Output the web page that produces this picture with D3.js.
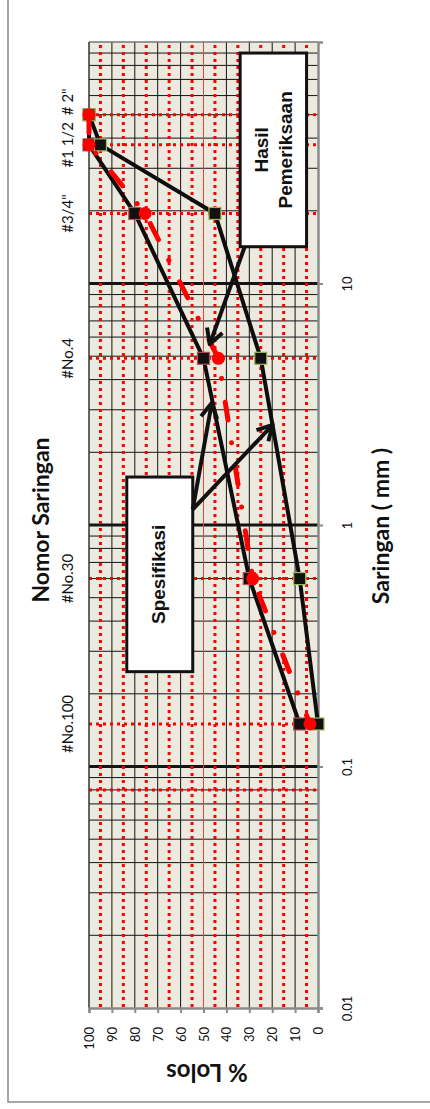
<!DOCTYPE html>
<html>
<head>
<meta charset="utf-8">
<script src="https://cdn.jsdelivr.net/npm/d3@7"></script>
<style>
  body { margin: 0; background: #fff; }
  text { font-family: Lato, "Open Sans", sans-serif; fill: #111; }
  .note { font-family: "Liberation Sans", Arial, sans-serif; font-weight: bold; }
</style>
</head>
<body>
<script>
// sieve openings (mm) as placed on the chart
var sieveNames = ['# 2"', '#1 1/2', '#3/4"', '#No.4', '#No.30', '#No.100'];
var sieveSize = [50, 37.5, 19.5, 4.9, 0.6, 0.15];
var extraSieve = [0.08];            // dotted line without label
// % passing
var specUpper = [100, 100, 80, 50, 30, 8];
var specLower = [100, 95, 45, 25, 8, 0];
var hasil = [100, 100, 75.5, 43.5, 28.5, 3.5];
// ticks
var pctTicks = [0, 10, 20, 30, 40, 50, 60, 70, 80, 90, 100];
var mmTicks = [0.01, 0.1, 1, 10];
var pctMid = [5, 15, 25, 35, 45, 55, 65, 75, 85, 95];

var w = 430, h = 1109;
var svg = d3.select('body').append('svg').attr('width', w).attr('height', h);

// chart is turned a quarter: sieve size runs up the page, % passing runs right to left
var x = d3.scaleLinear().domain([0, 100]).range([318, 89]);
var y = d3.scaleLog().domain([0.01, 100]).range([1008, 42]);

svg.append('path').attr('d', 'M8,0V1102H430')
  .attr('fill', 'none').attr('stroke', '#8a8a8a').attr('stroke-width', 1.5);

svg.append('rect')
  .attr('x', x(100)).attr('y', y(100))
  .attr('width', x(0) - x(100)).attr('height', y(0.01) - y(100))
  .attr('fill', '#ece9df');

// log grid
var isDecade = function(d) { var l = Math.log10(d); return Math.abs(l - Math.round(l)) < 1e-9; };
svg.append('g').selectAll('line')
  .data(y.ticks().filter(function(d) { return d > 0.01 && d < 100; }))
  .enter().append('line')
  .attr('x1', x(100)).attr('x2', x(0))
  .attr('y1', function(d) { return y(d); }).attr('y2', function(d) { return y(d); })
  .attr('stroke', '#141414')
  .attr('stroke-width', function(d) { return isDecade(d) ? 3 : 1; });

svg.append('g').selectAll('line')
  .data(pctTicks.filter(function(d) { return d > 0 && d < 100 && d != 50; }))
  .enter().append('line')
  .attr('x1', function(d) { return x(d); }).attr('x2', function(d) { return x(d); })
  .attr('y1', y(100)).attr('y2', y(0.01))
  .attr('stroke', '#141414').attr('stroke-width', 1);

svg.append('line')
  .attr('x1', x(50)).attr('x2', x(50)).attr('y1', y(100)).attr('y2', y(0.01))
  .attr('stroke', '#e8423a').attr('stroke-width', 1);

// red dotted lines
svg.append('g').selectAll('line')
  .data(pctMid).enter().append('line')
  .attr('x1', function(d) { return x(d); }).attr('x2', function(d) { return x(d); })
  .attr('y1', y(100) + 3).attr('y2', y(0.01))
  .attr('stroke', '#ff0000').attr('stroke-width', 3).attr('stroke-dasharray', '3,4');

svg.append('g').selectAll('line')
  .data(sieveSize.concat(extraSieve)).enter().append('line')
  .attr('x1', x(100)).attr('x2', x(0))
  .attr('y1', function(d) { return y(d); }).attr('y2', function(d) { return y(d); })
  .attr('stroke', '#ff0000').attr('stroke-width', 3).attr('stroke-dasharray', '3,4');

// plot borders
svg.append('line').attr('x1', x(100)).attr('x2', x(0)).attr('y1', y(100)).attr('y2', y(100))
  .attr('stroke', '#777').attr('stroke-width', 1.5);
svg.append('line').attr('x1', x(100)).attr('x2', x(100)).attr('y1', y(100)).attr('y2', y(0.01))
  .attr('stroke', '#333').attr('stroke-width', 1.5);

// axes
var mmAxis = svg.append('g').attr('transform', 'translate(' + x(0) + ',0)')
  .call(d3.axisRight(y).tickValues(mmTicks).tickSize(5).tickFormat(function(d) { return String(d); }));
var pctAxis = svg.append('g').attr('transform', 'translate(0,' + y(0.01) + ')')
  .call(d3.axisBottom(x).tickValues(pctTicks).tickSize(5));
[mmAxis, pctAxis].forEach(function(a) {
  a.select('.domain').attr('stroke', '#8a8a8a').attr('stroke-width', 2.5);
  a.selectAll('.tick line').attr('stroke', '#8a8a8a').attr('stroke-width', 2);
  a.selectAll('text').style('font-size', '13px').attr('fill', '#111');
});
mmAxis.selectAll('text')
  .attr('x', null).attr('dy', null).attr('text-anchor', 'middle')
  .attr('transform', 'translate(34,0) rotate(-90)');
pctAxis.selectAll('text')
  .attr('y', null).attr('dy', null).attr('text-anchor', 'end')
  .attr('transform', 'translate(4.5,19) rotate(-90)');

// series
function pts(vals) {
  return vals.map(function(v, i) { return {s: sieveSize[i], p: v}; });
}
var line = d3.line().x(function(d) { return x(d.p); }).y(function(d) { return y(d.s); });

function squares(vals, edge) {
  svg.append('path').datum(pts(vals)).attr('d', line)
    .attr('fill', 'none').attr('stroke', '#0d0d0d').attr('stroke-width', 4).attr('stroke-linejoin', 'round');
  svg.append('g').selectAll('rect').data(pts(vals)).enter().append('rect')
    .attr('x', function(d) { return x(d.p) - 6; }).attr('y', function(d) { return y(d.s) - 6; })
    .attr('width', 12).attr('height', 12)
    .attr('fill', '#111').attr('stroke', edge).attr('stroke-width', 1.2);
}
squares(specUpper, '#b0524f');
squares(specLower, '#9bbb59');

svg.append('path').datum(pts(hasil)).attr('d', line)
  .attr('fill', 'none').attr('stroke', '#ff0000').attr('stroke-width', 5)
  .attr('stroke-linecap', 'round').attr('stroke-dasharray', '18,23,0.1,24');
svg.append('g').selectAll('circle').data(pts(hasil)).enter().append('circle')
  .attr('cx', function(d) { return x(d.p); }).attr('cy', function(d) { return y(d.s); })
  .attr('r', 6.5).attr('fill', '#ff0000');

// call-outs, placed in chart units
var hasilBox = {p0: 34, p1: 5, s0: 90, s1: 14.2};
var specBox = {p0: 83.5, p1: 54.7, s0: 1.58, s1: 0.247};
var arrows = [
  {from: [32, 14.2], to: [47.3, 5.6]},
  {from: [54.7, 1.16], to: [46.4, 3.2]},
  {from: [54.7, 1.16], to: [19.8, 2.6]}
];

function box(b) {
  svg.append('rect')
    .attr('x', x(b.p0)).attr('y', y(b.s0))
    .attr('width', x(b.p1) - x(b.p0)).attr('height', y(b.s1) - y(b.s0))
    .attr('fill', '#fff').attr('stroke', '#111').attr('stroke-width', 3);
}
box(hasilBox);
box(specBox);

arrows.forEach(function(a) {
  var x0 = x(a.from[0]), y0 = y(a.from[1]), x1 = x(a.to[0]), y1 = y(a.to[1]);
  var ang = Math.atan2(y1 - y0, x1 - x0), len = 17, spread = 0.5;
  svg.append('line').attr('x1', x0).attr('y1', y0).attr('x2', x1).attr('y2', y1)
    .attr('stroke', '#111').attr('stroke-width', 4);
  svg.append('path')
    .attr('d', 'M' + (x1 - len * Math.cos(ang - spread)) + ',' + (y1 - len * Math.sin(ang - spread)) +
      'L' + x1 + ',' + y1 +
      'L' + (x1 - len * Math.cos(ang + spread)) + ',' + (y1 - len * Math.sin(ang + spread)))
    .attr('fill', 'none').attr('stroke', '#111').attr('stroke-width', 4).attr('stroke-linejoin', 'round');
});

var hx = (x(hasilBox.p0) + x(hasilBox.p1)) / 2, hy = (y(hasilBox.s0) + y(hasilBox.s1)) / 2;
var hasilText = svg.append('text').attr('class', 'note').attr('text-anchor', 'middle')
  .attr('transform', 'translate(' + hx + ',' + hy + ') rotate(-90)').style('font-size', '19px');
hasilText.append('tspan').attr('x', 0).attr('y', -5).text('Hasil');
hasilText.append('tspan').attr('x', 0).attr('y', 19).text('Pemeriksaan');

var sx = (x(specBox.p0) + x(specBox.p1)) / 2, sy = (y(specBox.s0) + y(specBox.s1)) / 2;
svg.append('text').attr('class', 'note').attr('text-anchor', 'middle')
  .attr('transform', 'translate(' + (sx + 5) + ',' + sy + ') rotate(-90)').style('font-size', '19px')
  .text('Spesifikasi');

// sieve names along the left, pushed up where they would run into each other
var names = svg.append('g').selectAll('text').data(sieveNames).enter().append('text')
  .attr('text-anchor', 'middle')
  .style('font-size', '15px')
  .text(function(d) { return d; });
var prevTop = Infinity;
for (var i = sieveNames.length - 1; i >= 0; i--) {
  var node = names.nodes()[i];
  var half = node.getComputedTextLength() / 2;
  var cy = Math.min(y(sieveSize[i]), prevTop - 7 - half);
  d3.select(node).attr('transform', 'translate(73,' + cy + ') rotate(-90)');
  prevTop = cy - half;
}

// titles
svg.append('text').attr('text-anchor', 'middle')
  .attr('transform', 'translate(49,520) rotate(-90)')
  .style('font-size', '23px').style('font-weight', 'bold').text('Nomor Saringan');
svg.append('text').attr('text-anchor', 'middle')
  .attr('transform', 'translate(389,526) rotate(-90)')
  .style('font-size', '23px').style('font-weight', 'bold').text('Saringan ( mm )');
svg.append('text').attr('text-anchor', 'middle')
  .attr('transform', 'translate(207,1064) rotate(180)')
  .style('font-size', '24px').style('font-weight', 'bold').text('% Lolos');
</script>
</body>
</html>
